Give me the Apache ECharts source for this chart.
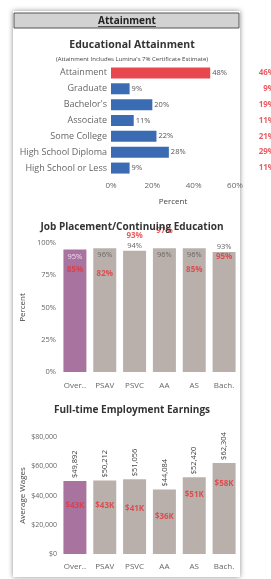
<!DOCTYPE html>
<html>
<head>
<meta charset="utf-8">
<script src="https://cdn.jsdelivr.net/npm/echarts@6/dist/echarts.min.js"></script>
<style>
  html, body { margin: 0; padding: 0; background: #ffffff; }
  #panel {
    position: absolute; left: 13px; top: 11px; width: 227px; height: 566px;
    background: #fff; box-shadow: 0 0 5px rgba(0,0,0,0.45);
  }
  #chart { position: absolute; left: 0; top: 0; width: 271px; height: 579px; }
</style>
</head>
<body>
<div id="panel"></div>
<div id="chart"></div>
<script>
// Educational attainment (percent)
const eduCats = ['Attainment', 'Graduate', "Bachelor's", 'Associate', 'Some College', 'High School Diploma', 'High School or Less'];
const eduValues = [48, 9, 20, 11, 22, 28, 9];
const eduCompare = [46, 9, 19, 11, 21, 29, 11];

// Job placement / continuing education (percent)
const programs = ['Over..', 'PSAV', 'PSVC', 'AA', 'AS', 'Bach.'];
const placement = [95, 96, 94, 96, 96, 93];
const placementCompare = [85, 82, 93, 97, 85, 95];

// Full-time employment earnings (dollars)
const earnings = [49892, 50212, 51056, 44084, 52420, 62304];
const earningsCompare = [43000, 43000, 41000, 36000, 51000, 58000];

const font = 'Open Sans';
const axisGray = '#666666';
const red = '#e3343b';
const blue = '#3b6cb3';
const purple = '#a8739f';
const taupe = '#bab0ab';

const chart = echarts.init(document.getElementById('chart'));

const fmtMoney = v => '$' + v.toLocaleString('en-US');

// which labels Tableau pushed above the bar
const grayAbove = ['PSVC', 'Bach.'];
const redAbove = ['PSVC', 'AA'];

const option = {
  animation: false,
  textStyle: { fontFamily: font },
  graphic: [
    { type: 'rect', shape: { x: 14, y: 13, width: 225, height: 15 },
      style: { fill: '#d2d2d2', stroke: '#555', lineWidth: 1 } },
    { type: 'text', x: 127, y: 21,
      style: { text: 'Attainment', font: 'bold 10px ' + font, fill: '#222', align: 'center', verticalAlign: 'middle' } },
    { type: 'line', shape: { x1: 98, y1: 26.5, x2: 156, y2: 26.5 }, style: { stroke: '#222', lineWidth: 0.8 } }
  ],
  title: [
    { text: 'Educational Attainment', left: 127, top: 35, textAlign: 'center',
      textStyle: { fontSize: 10.5, fontWeight: 'bold', color: '#333', fontFamily: font } },
    { text: "(Attainment Includes Lumina's 7% Certificate Estimate)", left: 127, top: 51, textAlign: 'center',
      textStyle: { fontSize: 6, fontWeight: 'normal', color: '#444', fontFamily: font } },
    { text: 'Job Placement/Continuing Education', left: 127, top: 217, textAlign: 'center',
      textStyle: { fontSize: 10, fontWeight: 'bold', color: '#333', fontFamily: font } },
    { text: 'Full-time Employment Earnings', left: 127, top: 400, textAlign: 'center',
      textStyle: { fontSize: 10, fontWeight: 'bold', color: '#333', fontFamily: font } }
  ],
  grid: [
    { left: 111, right: 36, top: 65, height: 111 },
    { left: 60, right: 32, top: 243, height: 129 },
    { left: 60, right: 32, top: 437, height: 117 }
  ],
  xAxis: [
    { gridIndex: 0, type: 'value', min: 0, max: 60, interval: 20,
      axisLine: { show: false }, axisTick: { show: false }, splitLine: { show: false },
      axisLabel: { formatter: '{value}%', color: axisGray, fontSize: 8, margin: 6, fontFamily: font },
      name: 'Percent', nameLocation: 'middle', nameGap: 22,
      nameTextStyle: { color: '#444', fontSize: 8, fontFamily: font } },
    { gridIndex: 1, type: 'category', data: programs,
      axisLine: { show: false }, axisTick: { show: false },
      axisLabel: { color: axisGray, fontSize: 8, margin: 10, fontFamily: font, interval: 0 } },
    { gridIndex: 2, type: 'category', data: programs,
      axisLine: { show: false }, axisTick: { show: false },
      axisLabel: { color: axisGray, fontSize: 8, margin: 9, fontFamily: font, interval: 0 } }
  ],
  yAxis: [
    { gridIndex: 0, type: 'category', data: eduCats, inverse: true,
      axisLine: { show: false }, axisTick: { show: false },
      axisLabel: { color: axisGray, fontSize: 9, margin: 4, fontFamily: font } },
    { gridIndex: 1, type: 'value', min: 0, max: 100, interval: 25,
      axisLine: { show: false }, axisTick: { show: false }, splitLine: { show: false },
      axisLabel: { formatter: '{value}%', color: axisGray, fontSize: 7.5, margin: 4, fontFamily: font },
      name: 'Percent', nameLocation: 'middle', nameGap: 33, nameRotate: 90, nameMoveOverlap: false,
      nameTextStyle: { color: '#444', fontSize: 8, fontFamily: font } },
    { gridIndex: 2, type: 'value', min: 0, max: 80000, interval: 20000,
      axisLine: { show: false }, axisTick: { show: false }, splitLine: { show: false },
      axisLabel: { formatter: fmtMoney, color: axisGray, fontSize: 7, margin: 3, fontFamily: font },
      name: 'Average Wages', nameLocation: 'middle', nameGap: 33, nameRotate: 90, nameMoveOverlap: false,
      nameTextStyle: { color: '#444', fontSize: 8, fontFamily: font } }
  ],
  series: [
    {
      type: 'bar', xAxisIndex: 0, yAxisIndex: 0, barWidth: 11,
      data: eduValues.map((v, i) => ({ value: v, itemStyle: { color: i === 0 ? '#e8484d' : blue } })),
      label: { show: true, position: 'right', distance: 2, formatter: '{c}%', color: '#555', fontSize: 7.5, fontFamily: font }
    },
    {
      type: 'scatter', xAxisIndex: 0, yAxisIndex: 0, symbolSize: 0, clip: false,
      data: eduCompare.map((v, i) => [60, eduCats[i], v]),
      label: { show: true, position: 'inside', align: 'right', offset: [40, 0],
        formatter: p => p.data[2] + '%', color: red, fontSize: 8, fontWeight: 'bold', fontFamily: font }
    },
    {
      type: 'bar', xAxisIndex: 1, yAxisIndex: 1, barWidth: 23,
      data: placement.map((v, i) => ({
        value: v,
        itemStyle: { color: i === 0 ? purple : taupe },
        label: grayAbove.includes(programs[i])
          ? { position: 'top', distance: 1 }
          : { position: 'insideTop', distance: 3, color: i === 0 ? '#f3dcef' : '#666' }
      })),
      label: { show: true, formatter: '{c}%', color: '#666', fontSize: 7.5, fontFamily: font }
    },
    {
      type: 'scatter', xAxisIndex: 1, yAxisIndex: 1, symbolSize: 0, clip: false,
      data: placementCompare.map((v, i) => ({
        value: [programs[i], v],
        label: { offset: redAbove.includes(programs[i]) ? [0, -16] : [0, 7] }
      })),
      label: { show: true, position: 'inside', formatter: p => p.value[1] + '%',
        color: red, fontSize: 8, fontWeight: 'bold', fontFamily: font }
    },
    {
      type: 'bar', xAxisIndex: 2, yAxisIndex: 2, barWidth: 23,
      data: earnings.map((v, i) => ({ value: v, itemStyle: { color: i === 0 ? purple : taupe } })),
      label: { show: true, position: 'top', rotate: 90, align: 'left', verticalAlign: 'middle', distance: 3,
        formatter: p => fmtMoney(p.value), color: '#444', fontSize: 7.5, fontFamily: font }
    },
    {
      type: 'scatter', xAxisIndex: 2, yAxisIndex: 2, symbolSize: 0, clip: false,
      data: earningsCompare.map((v, i) => [programs[i], v]),
      label: { show: true, position: 'inside', offset: [0, 15],
        formatter: p => '$' + Math.round(p.value[1] / 1000) + 'K', color: red, fontSize: 8, fontWeight: 'bold', fontFamily: font }
    }
  ]
};

chart.setOption(option);
</script>
</body>
</html>
